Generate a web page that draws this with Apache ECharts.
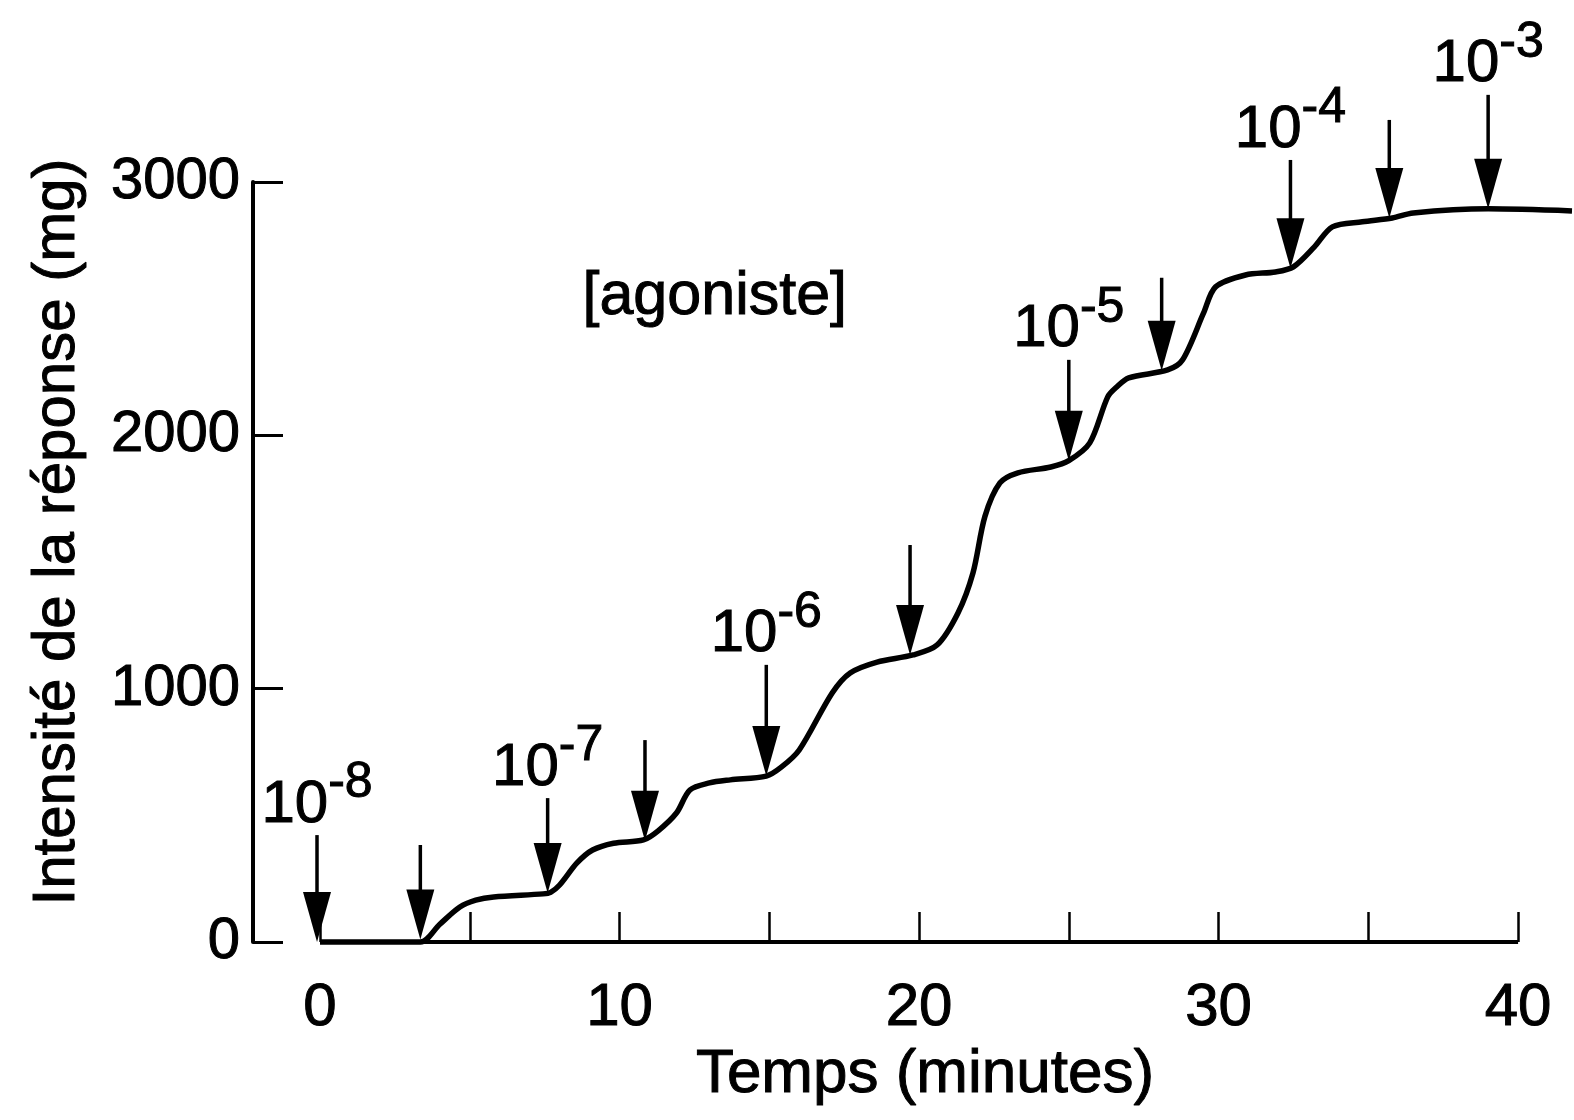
<!DOCTYPE html>
<html>
<head>
<meta charset="utf-8">
<script src="https://cdn.jsdelivr.net/npm/echarts@6/dist/echarts.min.js"></script>
<style>
  html, body { margin: 0; padding: 0; background: #fff; }
  #chart { width: 1574px; height: 1120px; }
</style>
</head>
<body>
<div id="chart"></div>
<script>
// courbe dose-réponse cumulée (temps en minutes, réponse en mg)
var temps = [0, 3.35, 4.0, 4.67, 5.2, 5.8, 7.45, 7.7, 8.0, 8.58, 9.1, 9.8, 10.8, 11.3, 11.9, 12.35,
             13.0, 13.7, 14.9, 15.4, 16.0, 17.1, 17.7, 18.6, 19.8, 20.6, 21.3, 21.8, 22.2, 22.7,
             23.3, 24.4, 25.0, 25.7, 26.3, 26.6, 27.0, 28.3, 28.8, 29.5, 29.9, 30.9, 31.9, 32.5,
             33.2, 33.8, 34.8, 35.8, 36.5, 39.0, 41.8];
var reponse = [0, 0, 70, 138, 165, 178, 190, 196, 225, 312, 363, 390, 403, 440, 509, 600,
               628, 640, 655, 690, 758, 983, 1062, 1105, 1133, 1172, 1299, 1457, 1680, 1812,
               1852, 1875, 1900, 1970, 2152, 2191, 2227, 2258, 2298, 2483, 2586, 2633, 2645, 2665,
               2744, 2823, 2843, 2858, 2878, 2894, 2886];

// flèches d'ajout d'agoniste
var flecheTemps = [-0.1, 3.35, 7.6, 10.85, 14.9, 19.7, 25.0, 28.1, 32.4, 35.7, 39.0];
var flecheBas   = [0, 10, 193, 400, 655, 1133, 1900, 2255, 2660, 2858, 2894];
var flecheHaut  = [422, 383, 568, 797, 1094, 1567, 2298, 2622, 3087, 3245, 3344];
var flecheExp   = ['-8', '', '-7', '', '-6', '', '-5', '', '-4', '', '-3'];

var xTicks = [0, 5, 10, 15, 20, 25, 30, 35, 40];
var xLabels = [0, 10, 20, 30, 40];
var yTicks = [0, 1000, 2000, 3000];

var police = '"Liberation Sans", Arial, Helvetica, sans-serif';

var chart = echarts.init(document.getElementById('chart'));

var courbe = temps.map(function (t, i) { return [t, reponse[i]]; });
var fleches = flecheTemps.map(function (t, i) { return [t, flecheBas[i], flecheHaut[i], i]; });

var option = {
    animation: false,
    backgroundColor: '#fff',
    textStyle: { fontFamily: police, color: '#000' },
    grid: { left: 320, right: 2, top: 182, bottom: 178 },
    xAxis: {
        type: 'value',
        min: 0,
        max: temps[temps.length - 1],
        name: 'Temps (minutes)',
        nameLocation: 'middle',
        nameGap: 100,
        nameTextStyle: {
            fontSize: 62, color: '#000', fontFamily: police, padding: [0, 42, 0, 0],
            textBorderColor: '#000', textBorderWidth: 1
        },
        splitLine: { show: false },
        axisLine: { show: false },
        axisTick: {
            show: true, inside: true, length: 30, customValues: xTicks,
            lineStyle: { color: '#000', width: 2.5 }
        },
        axisLabel: {
            fontSize: 60, color: '#000', fontFamily: police, margin: 36, customValues: xLabels,
            textBorderColor: '#000', textBorderWidth: 1
        }
    },
    yAxis: {
        type: 'value',
        min: yTicks[0],
        max: yTicks[yTicks.length - 1],
        interval: 1000,
        offset: 67,
        name: 'Intensité de la réponse (mg)',
        nameLocation: 'middle',
        nameGap: 166,
        nameTextStyle: {
            fontSize: 60, color: '#000', fontFamily: police, padding: [0, 0, 0, 60],
            textBorderColor: '#000', textBorderWidth: 1
        },
        splitLine: { show: false },
        axisLine: { show: true, onZero: false, lineStyle: { color: '#000', width: 4 } },
        axisTick: { show: true, inside: true, length: 30, lineStyle: { color: '#000', width: 3 } },
        axisLabel: {
            fontSize: 58, color: '#000', fontFamily: police, margin: 13,
            textBorderColor: '#000', textBorderWidth: 1,
            formatter: function (v) { return String(v); }
        }
    },
    graphic: [{
        type: 'text',
        left: 582,
        top: 266,
        style: {
            text: '[agoniste]', fontSize: 61, fontFamily: police, fill: '#000',
            stroke: '#000', lineWidth: 1
        }
    }],
    series: [{
        type: 'line',
        data: courbe,
        smooth: 0.3,
        showSymbol: false,
        clip: false,
        lineStyle: { color: '#000', width: 5.5 },
        markLine: {
            silent: true,
            symbol: ['none', 'none'],
            label: { show: false },
            lineStyle: { color: '#000', width: 4, type: 'solid' },
            data: [[{ coord: [xTicks[0], 0] }, { coord: [xTicks[xTicks.length - 1], 0] }]]
        }
    }, {
        type: 'custom',
        data: fleches,
        clip: false,
        encode: { x: 0, y: 1 },
        renderItem: function (params, api) {
            var bas = api.coord([api.value(0), api.value(1)]);
            var haut = api.coord([api.value(0), api.value(2)]);
            var x = bas[0], yb = bas[1];
            var enfants = [{
                type: 'line',
                shape: { x1: x, y1: haut[1], x2: x, y2: yb - 40 },
                style: { stroke: '#000', lineWidth: 3.5 }
            }, {
                type: 'polygon',
                shape: { points: [[x - 14, yb - 50], [x + 14, yb - 50], [x, yb]] },
                style: { fill: '#000' }
            }];
            var exp = flecheExp[api.value(3)];
            if (exp) {
                enfants.push({
                    type: 'text',
                    style: {
                        x: x,
                        y: haut[1] - 12,
                        text: '{n|10}{s|' + exp + '}',
                        align: 'center',
                        verticalAlign: 'bottom',
                        fill: '#000',
                        rich: {
                            n: {
                                fontSize: 60, lineHeight: 60, fontFamily: police, padding: [24, 0, 0, 0],
                                fill: '#000', stroke: '#000', lineWidth: 1
                            },
                            s: {
                                fontSize: 50, lineHeight: 50, fontFamily: police, padding: [7, 0, 27, 0],
                                fill: '#000', stroke: '#000', lineWidth: 1
                            }
                        }
                    }
                });
            }
            return { type: 'group', children: enfants };
        }
    }]
};

chart.setOption(option);
</script>
</body>
</html>
